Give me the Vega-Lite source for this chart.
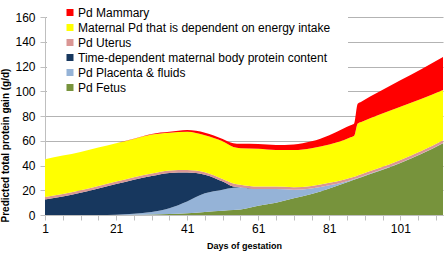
{
  "$schema": "https://vega.github.io/schema/vega-lite/v6.json",
  "width": 398,
  "height": 198,
  "autosize": "none",
  "padding": {"left": 45, "top": 17, "right": 4, "bottom": 39},
  "background": "white",
  "config": {"font": "Liberation Sans", "view": {"stroke": null}},
  "datasets": {
    "days": [
      {"day": 1, "fetus": 0, "placenta": 0, "timedep": 12.5, "uterus": 2, "energy": 30.5, "mammary": 0},
      {"day": 6, "fetus": 0, "placenta": 0, "timedep": 15, "uterus": 2, "energy": 31, "mammary": 0},
      {"day": 11, "fetus": 0, "placenta": 0, "timedep": 18, "uterus": 2, "energy": 31, "mammary": 0},
      {"day": 16, "fetus": 0, "placenta": 0, "timedep": 21.5, "uterus": 2, "energy": 31, "mammary": 0},
      {"day": 21, "fetus": 0, "placenta": 0.3, "timedep": 24.7, "uterus": 2, "energy": 31, "mammary": 0},
      {"day": 26, "fetus": 0.2, "placenta": 0.8, "timedep": 27.5, "uterus": 2, "energy": 31, "mammary": 0.2},
      {"day": 31, "fetus": 0.4, "placenta": 2.1, "timedep": 29, "uterus": 2, "energy": 31.5, "mammary": 0.5},
      {"day": 36, "fetus": 0.8, "placenta": 4.7, "timedep": 28.5, "uterus": 2, "energy": 30.5, "mammary": 0.7},
      {"day": 41, "fetus": 1.5, "placenta": 9.5, "timedep": 23.4, "uterus": 2, "energy": 30.9, "mammary": 1.3},
      {"day": 46, "fetus": 2.5, "placenta": 15, "timedep": 15, "uterus": 2, "energy": 30, "mammary": 2},
      {"day": 51, "fetus": 3.5, "placenta": 17, "timedep": 6.5, "uterus": 2, "energy": 30.5, "mammary": 2},
      {"day": 54, "fetus": 4, "placenta": 18, "timedep": 1, "uterus": 2.5, "energy": 29.5, "mammary": 3},
      {"day": 56, "fetus": 4.5, "placenta": 18, "timedep": 0, "uterus": 2, "energy": 29.5, "mammary": 3.5},
      {"day": 61, "fetus": 7.5, "placenta": 13.5, "timedep": 0, "uterus": 2, "energy": 30.5, "mammary": 3.8},
      {"day": 66, "fetus": 10, "placenta": 11, "timedep": 0, "uterus": 2, "energy": 29.5, "mammary": 4},
      {"day": 71, "fetus": 13.5, "placenta": 7, "timedep": 0, "uterus": 2, "energy": 30, "mammary": 4.5},
      {"day": 76, "fetus": 17, "placenta": 4.5, "timedep": 0, "uterus": 2, "energy": 30.5, "mammary": 5.5},
      {"day": 81, "fetus": 21.5, "placenta": 2.5, "timedep": 0, "uterus": 2, "energy": 31, "mammary": 7.5},
      {"day": 85, "fetus": 25.5, "placenta": 1, "timedep": 0, "uterus": 2, "energy": 32, "mammary": 9.5},
      {"day": 87, "fetus": 27.5, "placenta": 0.6, "timedep": 0, "uterus": 2, "energy": 32.7, "mammary": 9.8},
      {"day": 88, "fetus": 28.5, "placenta": 0.5, "timedep": 0, "uterus": 2, "energy": 33, "mammary": 10},
      {"day": 89, "fetus": 29.5, "placenta": 0.5, "timedep": 0, "uterus": 2, "energy": 42, "mammary": 16},
      {"day": 90, "fetus": 30.5, "placenta": 0.5, "timedep": 0, "uterus": 2, "energy": 42.2, "mammary": 16.4},
      {"day": 95, "fetus": 35.5, "placenta": 0.5, "timedep": 0, "uterus": 2, "energy": 43, "mammary": 18.5},
      {"day": 101, "fetus": 42, "placenta": 0.3, "timedep": 0, "uterus": 2.2, "energy": 43, "mammary": 21.4},
      {"day": 107, "fetus": 49.5, "placenta": 0.2, "timedep": 0, "uterus": 2.3, "energy": 42, "mammary": 24},
      {"day": 113, "fetus": 58, "placenta": 0.2, "timedep": 0, "uterus": 2.3, "energy": 40.5, "mammary": 26.7}
    ],
    "layers": [
      {"key": "fetus", "label": "Pd Fetus", "rank": 1},
      {"key": "placenta", "label": "Pd Placenta & fluids", "rank": 2},
      {"key": "timedep", "label": "Time-dependent maternal body protein content", "rank": 3},
      {"key": "uterus", "label": "Pd Uterus", "rank": 4},
      {"key": "energy", "label": "Maternal Pd that is dependent on energy intake", "rank": 5},
      {"key": "mammary", "label": "Pd Mammary", "rank": 6}
    ]
  },
  "data": {"name": "days"},
  "transform": [
    {"fold": ["fetus", "placenta", "timedep", "uterus", "energy", "mammary"], "as": ["key", "pd"]},
    {"lookup": "key", "from": {"data": {"name": "layers"}, "key": "key", "fields": ["label", "rank"]}}
  ],
  "mark": {"type": "area", "interpolate": "monotone", "opacity": 1},
  "encoding": {
    "x": {
      "field": "day",
      "type": "quantitative",
      "scale": {"domain": [1, 113], "nice": false, "zero": false},
      "axis": {
        "title": "Days of gestation",
        "values": [1, 6, 11, 16, 21, 26, 31, 36, 41, 46, 51, 56, 61, 66, 71, 76, 81, 86, 91, 96, 101, 106, 111],
        "labelExpr": "(datum.value - 1) % 20 === 0 ? datum.label : ''",
        "labelOverlap": false,
        "labelFlush": false,
        "grid": false,
        "domainColor": "#bfbfbf",
        "tickColor": "#bfbfbf",
        "tickSize": 5,
        "labelPadding": 3,
        "labelFontSize": 12,
        "labelColor": "#000000",
        "titleFontSize": 9,
        "titleFontWeight": "bold",
        "titleColor": "#000000",
        "titleBaseline": "middle",
        "titleY": 30
      }
    },
    "y": {
      "field": "pd",
      "type": "quantitative",
      "stack": "zero",
      "scale": {"domain": [0, 160], "nice": false},
      "axis": {
        "title": "Predicted total protein gain (g/d)",
        "values": [0, 20, 40, 60, 80, 100, 120, 140, 160],
        "grid": true,
        "gridColor": "#b3b3b3",
        "domainColor": "#bfbfbf",
        "tickColor": "#bfbfbf",
        "tickSize": 5,
        "labelPadding": 5,
        "labelFontSize": 12,
        "labelColor": "#000000",
        "titleFontSize": 10,
        "titleFontWeight": "bold",
        "titleColor": "#000000",
        "titleAngle": -90,
        "titleAlign": "center",
        "titleBaseline": "middle",
        "titleX": -40,
        "titleY": 128
      }
    },
    "color": {
      "field": "label",
      "type": "nominal",
      "scale": {
        "domain": [
          "Pd Mammary",
          "Maternal Pd that is dependent on energy intake",
          "Pd Uterus",
          "Time-dependent maternal body protein content",
          "Pd Placenta & fluids",
          "Pd Fetus"
        ],
        "range": ["#ff0000", "#ffff00", "#da9694", "#17375e", "#95b3d7", "#77933c"]
      },
      "legend": {
        "title": null,
        "orient": "none",
        "legendX": 2,
        "legendY": -27.5,
        "padding": 17,
        "fillColor": "white",
        "symbolType": "square",
        "symbolSize": 49,
        "symbolStrokeWidth": 0,
        "symbolOpacity": 1,
        "labelFontSize": 12,
        "labelColor": "#000000",
        "labelLimit": 400,
        "labelOffset": 2,
        "rowPadding": 3
      }
    },
    "order": {"field": "rank", "type": "quantitative", "sort": "ascending"}
  }
}
